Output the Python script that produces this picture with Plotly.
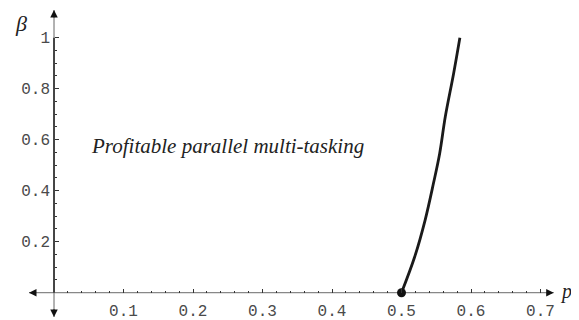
import plotly.graph_objects as go

# Data
p_vals = [0.500, 0.519, 0.534, 0.546, 0.555, 0.563, 0.575, 0.584]
beta_vals = [0.000, 0.141, 0.285, 0.429, 0.547, 0.690, 0.860, 1.000]
dot_p = [0.5]
dot_beta = [0.0]
x_ticks = [0.1, 0.2, 0.3, 0.4, 0.5, 0.6, 0.7]
x_tick_text = ["0.1", "0.2", "0.3", "0.4", "0.5", "0.6", "0.7"]
y_ticks = [0.2, 0.4, 0.6, 0.8, 1.0]
y_tick_text = ["0.2", "0.4", "0.6", "0.8", "1"]
x_minor = [round(0.02 * i, 2) for i in range(1, 36) if i % 5 != 0]
y_minor = [round(0.05 * i, 2) for i in range(1, 20) if i % 4 != 0]
region_label = "Profitable parallel multi-tasking"

X_RANGE = [-0.0662, 0.7554]
Y_RANGE = [-0.107, 1.1165]
X_AX = [-0.036, 0.719]
Y_AX = [-0.095, 1.109]

fig = go.Figure()
fig.add_trace(go.Scatter(x=p_vals, y=beta_vals, mode="lines",
                         line=dict(color="#1a1a1a", width=2.8, shape="spline"),
                         hoverinfo="skip", showlegend=False))
fig.add_trace(go.Scatter(x=dot_p, y=dot_beta, mode="markers",
                         marker=dict(color="#111", size=9),
                         hoverinfo="skip", showlegend=False))

xpos = (0 - Y_RANGE[0]) / (Y_RANGE[1] - Y_RANGE[0])
ypos = (0 - X_RANGE[0]) / (X_RANGE[1] - X_RANGE[0])
mono = dict(family="Liberation Mono, Courier New, monospace", size=16, color="#4a4a4a")

fig.update_layout(
    width=571, height=312,
    margin=dict(l=0, r=0, t=0, b=0, pad=0),
    plot_bgcolor="white", paper_bgcolor="white",
    xaxis=dict(range=X_RANGE, anchor="free", position=xpos, showgrid=False,
               zeroline=False, showline=False, ticks="inside", ticklen=4,
               tickcolor="#333", tickwidth=1, tickvals=x_ticks, ticktext=x_tick_text,
               tickfont=mono, ticklabelstandoff=6,
               minor=dict(tickvals=x_minor, ticks="inside", ticklen=2,
                          tickcolor="#333", tickwidth=1)),
    yaxis=dict(range=Y_RANGE, anchor="free", position=ypos, showgrid=False,
               zeroline=False, showline=False, ticks="inside", ticklen=4,
               tickcolor="#333", tickwidth=1, tickvals=y_ticks, ticktext=y_tick_text,
               tickfont=mono, ticklabelstandoff=4,
               minor=dict(tickvals=y_minor, ticks="inside", ticklen=2,
                          tickcolor="#333", tickwidth=1)),
)

# axis lines
fig.add_shape(type="line", x0=X_AX[0], x1=X_AX[1], y0=0, y1=0,
              line=dict(color="#888", width=1.3), layer="below")
fig.add_shape(type="line", x0=0, x1=0, y0=Y_AX[0], y1=Y_AX[1],
              line=dict(color="#888", width=1.3), layer="below")
fig.add_shape(type="line", x0=0, x1=0, y0=0, y1=1,
              line=dict(color="#222", width=1.5), layer="below")

# arrowheads
def arrow(x, y, ax, ay):
    fig.add_annotation(x=x, y=y, ax=ax, ay=ay, xref="x", yref="y",
                       axref="x", ayref="y", text="", showarrow=True,
                       arrowhead=2, arrowsize=1, arrowwidth=1.5, arrowcolor="#111")

arrow(X_AX[1], 0, X_AX[1] - 0.012, 0)
arrow(X_AX[0], 0, X_AX[0] + 0.012, 0)
arrow(0, Y_AX[1], 0, Y_AX[1] - 0.035)
arrow(0, Y_AX[0], 0, Y_AX[0] + 0.035)

serif = "Liberation Serif, Times New Roman, serif"
fig.add_annotation(x=0.25, y=0.575, xref="x", yref="y", text="<i>" + region_label + "</i>",
                   showarrow=False, font=dict(family=serif, size=21, color="#222"))
fig.add_annotation(x=-0.047, y=1.055, xref="x", yref="y", text="<i>β</i>",
                   showarrow=False, font=dict(family=serif, size=22, color="#222"))
fig.add_annotation(x=0.737, y=0.005, xref="x", yref="y", text="<i>p</i>",
                   showarrow=False, font=dict(family=serif, size=20, color="#222"))

fig.write_html("out.html")
